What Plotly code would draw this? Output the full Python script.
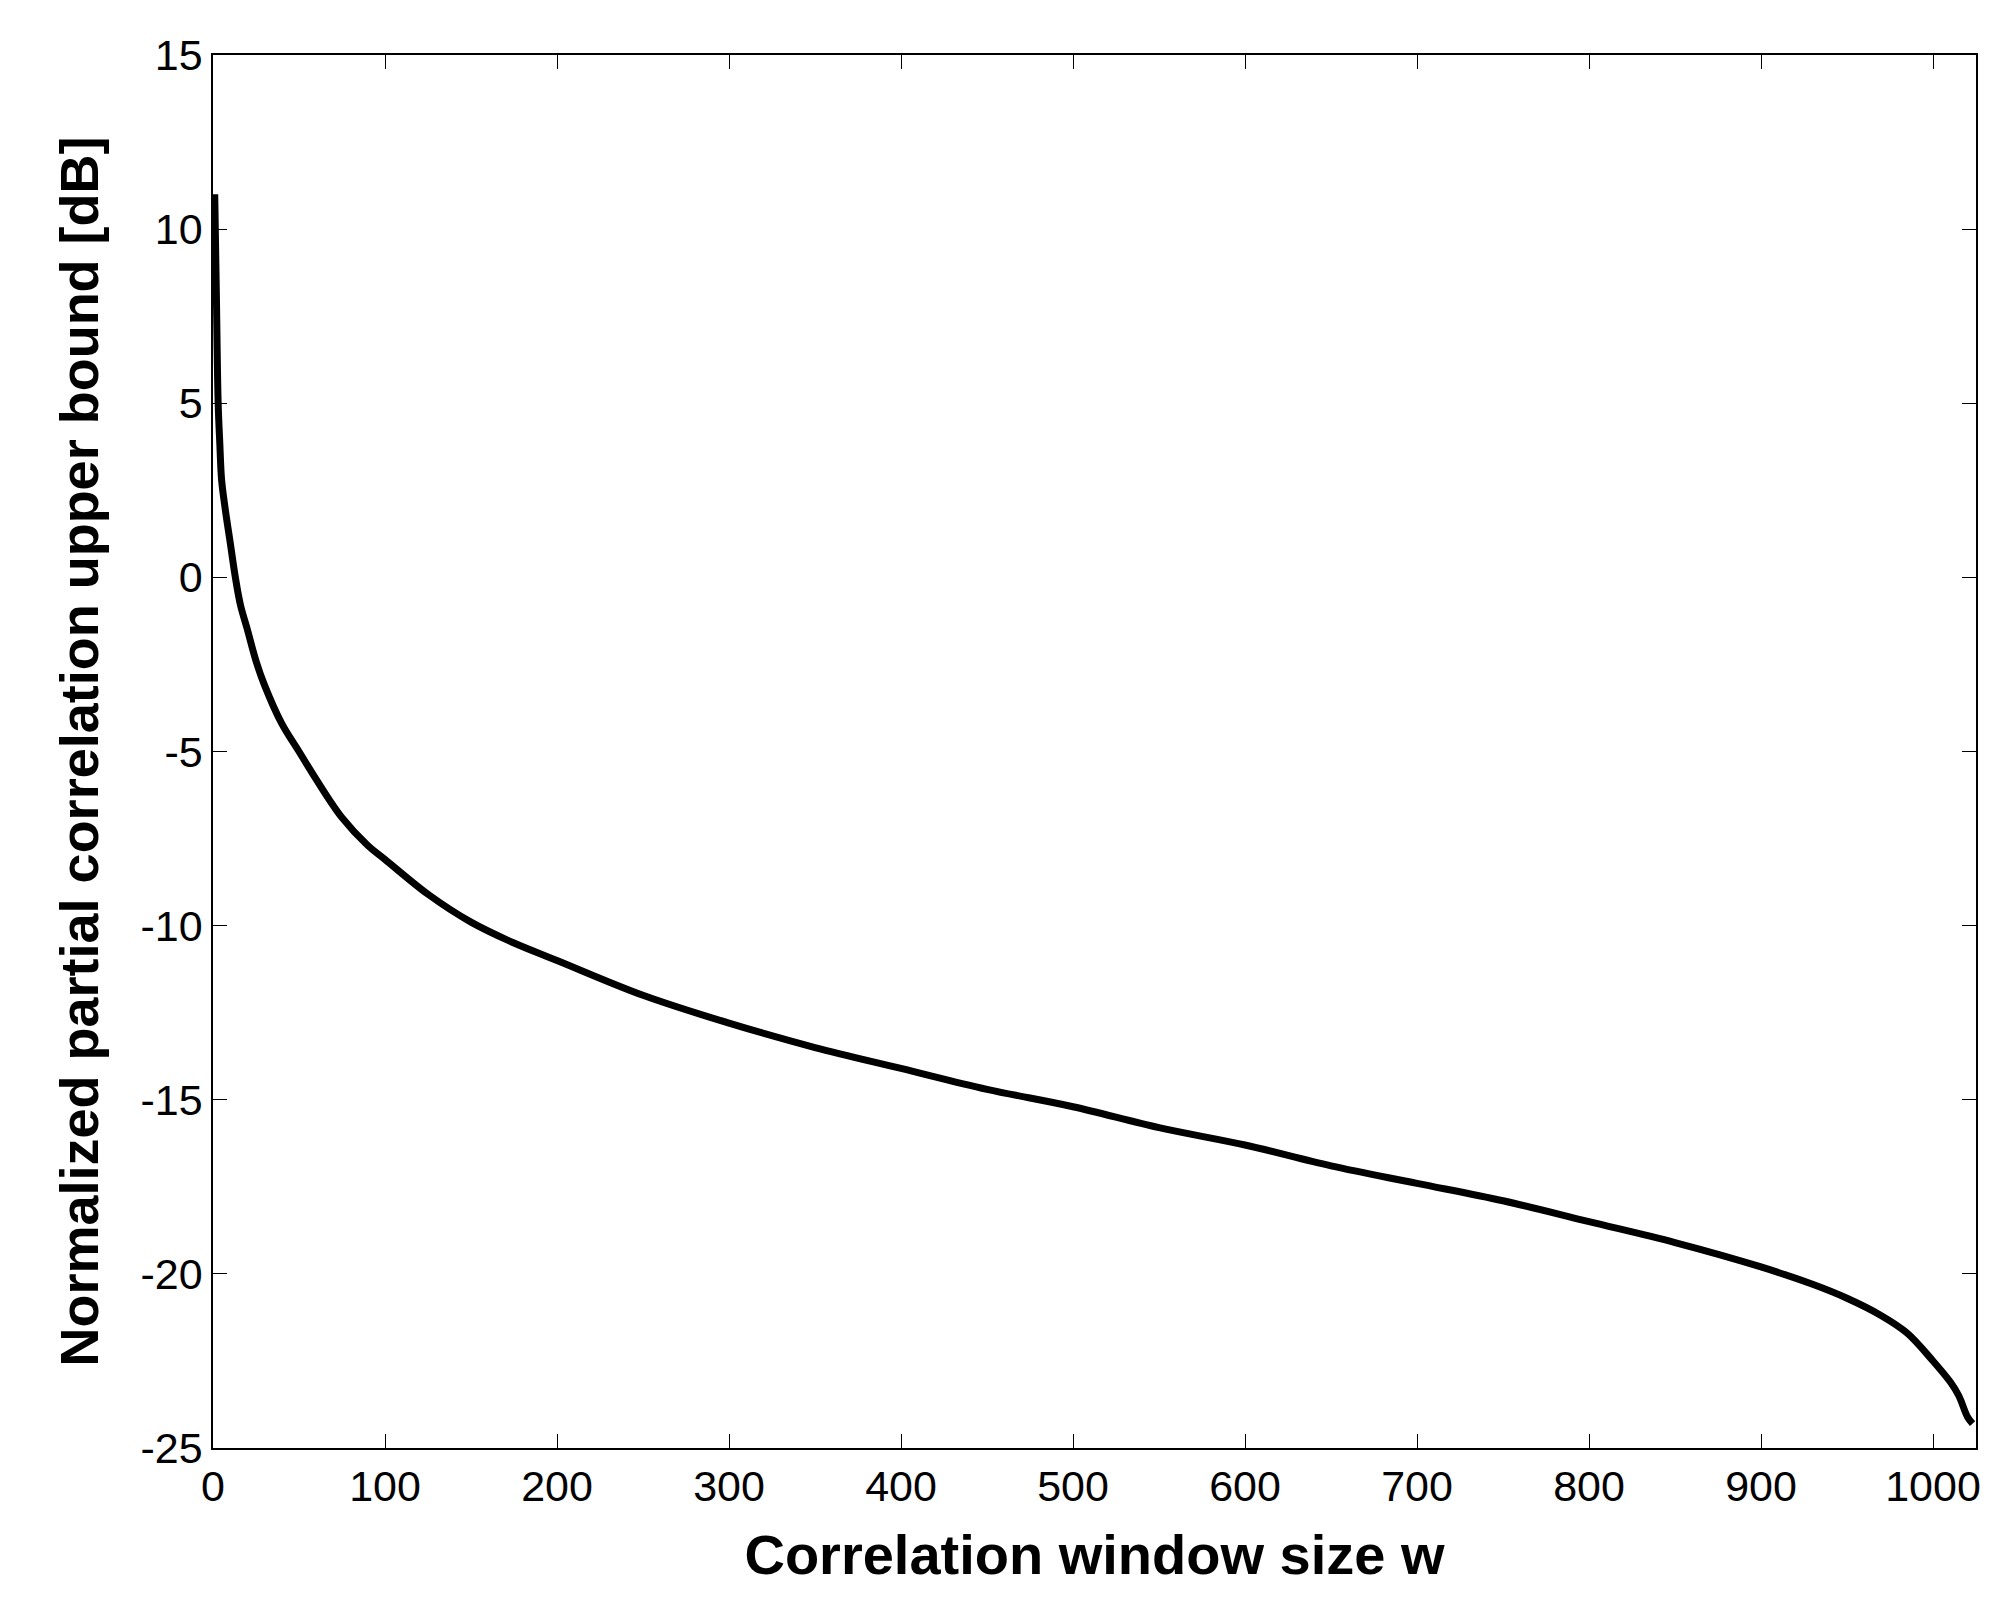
import plotly.graph_objects as go

w = [1, 2, 3, 4, 5, 7, 10, 13, 16, 20, 25, 30, 40, 50, 60, 75, 90, 100, 125, 150, 175, 200, 250, 300, 350, 400, 450, 500, 550, 600, 650, 700, 750, 800, 850, 900, 930, 950, 970, 985, 1000, 1010, 1015, 1020, 1023]
bound = [11.0, 8.0, 5.0, 3.8, 2.8, 2.0, 1.0, 0.0, -0.8, -1.5, -2.4, -3.1, -4.2, -5.0, -5.8, -6.9, -7.7, -8.1, -9.1, -9.9, -10.5, -11.0, -12.0, -12.8, -13.5, -14.1, -14.7, -15.2, -15.8, -16.3, -16.9, -17.4, -17.9, -18.5, -19.1, -19.8, -20.3, -20.7, -21.2, -21.7, -22.5, -23.1, -23.5, -24.1, -24.3]
xticks = [0, 100, 200, 300, 400, 500, 600, 700, 800, 900, 1000]
yticks = [-25, -20, -15, -10, -5, 0, 5, 10, 15]

fig = go.Figure(go.Scatter(x=w, y=bound, mode="lines", line=dict(color="black", width=7), line_shape="spline"))

axis_common = dict(showline=True, linecolor="black", linewidth=1.5, mirror="ticks", ticks="inside",
                   ticklen=14, tickcolor="black", showgrid=False, zeroline=False,
                   tickfont=dict(family="Liberation Sans", size=43, color="black"))
fig.update_xaxes(range=[0, 1025], tickvals=xticks, ticktext=[str(v) for v in xticks],
                 title=dict(text="<b>Correlation window size w</b>", font=dict(family="Liberation Sans", size=56, color="black"), standoff=25),
                 **axis_common)
fig.update_yaxes(range=[-25, 15], tickvals=yticks, ticktext=[str(v) for v in yticks],
                 title=dict(text="<b>Normalized partial correlation upper bound [dB]</b>", font=dict(family="Liberation Sans", size=54, color="black"), standoff=25),
                 **axis_common)
fig.update_layout(width=2008, height=1600, plot_bgcolor="white", paper_bgcolor="white",
                  margin=dict(l=205, r=40, t=47, b=160), showlegend=False)
fig.write_html("out.html")
